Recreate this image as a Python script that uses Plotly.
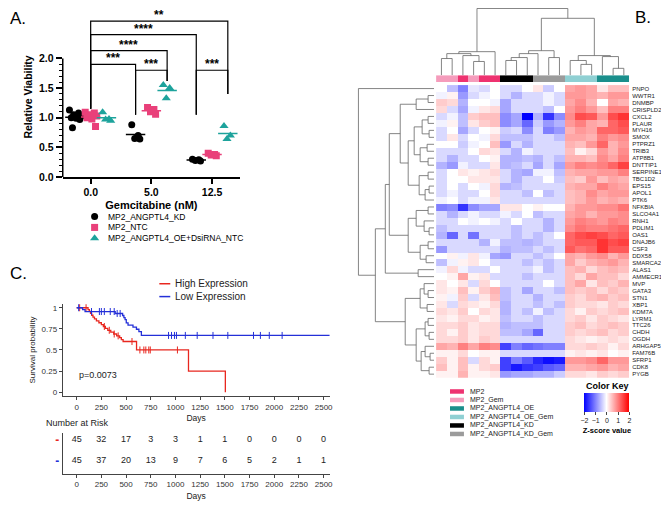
import plotly.graph_objects as go
import numpy as np

W, H = 669, 514
OFF = 8  # page body margin offset of the plot div
FONT = "Liberation Sans, Arial, sans-serif"


def fx(p):
    return (p - OFF) / W


def fy(p):
    return min(1.0, 1 - (p - OFF) / H)


# ---------------- Panel A data ----------------
doses = ["0.0", "5.0", "12.5"]
series_names = ["MP2_ANGPTL4_KD", "MP2_NTC", "MP2_ANGPTL4_OE+DsiRNA_NTC"]
kd_0 = [1.13, 1.08, 1.05, 1.02, 1.00, 0.99, 0.97, 0.83]
kd_5 = [0.88, 0.70, 0.65, 0.64]
kd_12 = [0.30, 0.29, 0.28, 0.27]
ntc_0 = [1.09, 1.08, 1.05, 1.03, 1.00, 0.98, 0.85]
ntc_5 = [1.17, 1.14, 1.10, 1.06]
ntc_12 = [0.40, 0.38, 0.37, 0.36]
oe_0 = [1.09, 0.98, 0.97, 0.95]
oe_5 = [1.55, 1.50, 1.33]
oe_12 = [0.86, 0.70, 0.64]
sig_labels = ["**", "****", "****", "***", "***", "***"]

# ---------------- Panel B data ----------------
genes = ["PNPO", "WWTR1", "DNMBP", "CRISPLD2", "CXCL2", "PLAUR", "MYH16", "SMOX",
         "PTPRZ1", "TRIB3", "ATP8B1", "DNTTIP1", "SERPINE1", "TBC1D2", "EPS15",
         "APOL1", "PTK6", "NFKBIA", "SLCO4A1", "RNH1", "PDLIM1", "OAS1", "DNAJB6",
         "CSF3", "DDX58", "SMARCA2", "ALAS1", "AMMECR1", "MVP", "GATA3", "STN1",
         "XBP1", "KDM7A", "LYRM1", "TTC26", "CHDH", "OGDH", "ARHGAP5", "FAM76B",
         "SFRP1", "CDK8", "PYGB"]
group_names = ["MP2", "MP2_Gem", "MP2_ANGPTL4_OE", "MP2_ANGPTL4_OE_Gem",
               "MP2_ANGPTL4_KD", "MP2_ANGPTL4_KD_Gem"]
col_groups = ["MP2_Gem", "MP2_Gem", "MP2", "MP2_Gem", "MP2", "MP2",
              "MP2_ANGPTL4_KD", "MP2_ANGPTL4_KD", "MP2_ANGPTL4_KD",
              "MP2_ANGPTL4_KD_Gem", "MP2_ANGPTL4_KD_Gem", "MP2_ANGPTL4_KD_Gem",
              "MP2_ANGPTL4_OE_Gem", "MP2_ANGPTL4_OE_Gem", "MP2_ANGPTL4_OE_Gem",
              "MP2_ANGPTL4_OE", "MP2_ANGPTL4_OE", "MP2_ANGPTL4_OE"]
zscores = [
    [0.0, -0.5, -1.0, -0.2, -0.3, 0.0, -0.3, -0.3, 0.0, 0.2, -0.4, 0.0, 0.7, 0.8, 0.7, 0.2, 0.5, 0.5],
    [-0.1, 0.1, -0.8, -0.3, -0.1, 0.0, -0.3, -0.6, -0.3, -0.3, -0.1, -0.3, 0.8, 0.8, 0.7, 0.6, 0.8, 0.8],
    [0.4, 0.3, -0.6, 0.0, 0.0, -0.1, -0.7, -0.3, -0.3, -0.3, -0.1, -0.3, 0.7, 0.9, 0.6, 0.0, 0.7, 0.6],
    [0.3, -0.3, -0.7, -0.1, 0.2, 0.3, -0.7, -0.3, -0.3, -0.3, -0.5, 0.0, 0.8, 1.0, 0.8, 0.5, 1.0, 1.0],
    [-0.3, -0.1, -0.5, 0.4, 0.5, 0.5, -0.9, -0.7, -2.0, -0.6, -1.6, -0.9, 0.9, 1.4, 1.3, 0.8, 1.4, 1.6],
    [-0.1, 0.1, -0.5, 0.2, 0.4, 0.5, -0.9, -0.7, -1.2, -0.4, -0.8, -0.6, 0.8, 1.0, 0.7, 0.6, 1.2, 1.4],
    [-0.3, 0.0, -0.7, -0.3, 0.0, 0.1, -0.4, -0.3, -0.9, -0.3, -1.0, -0.8, 0.6, 0.8, 0.7, 1.2, 1.2, 1.3],
    [-0.3, 0.2, -0.3, 0.0, -0.1, 0.3, -0.5, -0.5, -0.5, -0.3, -0.3, -0.5, 0.7, 0.7, 0.6, 1.0, 0.8, 0.9],
    [0.0, 0.0, -0.4, -0.1, 0.0, 0.5, -0.8, -0.3, -0.6, -0.3, -0.3, -0.3, 0.6, 0.5, 0.8, 1.2, 0.6, 0.8],
    [-0.3, -0.3, -0.3, 0.0, 0.3, 0.2, -0.3, -0.6, -0.1, -0.3, -0.3, -0.3, 0.5, 0.1, 0.3, 0.8, 0.6, 0.9],
    [-0.3, -0.6, -0.3, -0.3, 0.0, 0.1, -0.6, -0.6, -0.5, -0.6, -0.3, -0.5, 0.6, 0.6, 0.5, 0.9, 0.7, 1.0],
    [-0.6, -0.8, -0.1, -0.3, -0.3, 0.2, -0.6, -0.5, -0.3, -0.7, -0.3, -0.7, 0.8, 1.0, 0.9, 1.0, 1.2, 1.5],
    [-0.3, 0.0, 0.2, 0.1, 0.2, 0.3, -0.3, -0.6, -0.7, -0.1, -0.1, -0.5, 0.6, 0.7, 0.7, 0.8, 0.8, 1.0],
    [-0.3, 0.0, 0.0, 0.2, 0.2, 0.2, -0.3, -0.6, -0.3, -0.3, 0.0, -0.4, 0.5, 0.4, 0.8, 0.5, 0.7, 0.6],
    [-0.3, 0.0, -0.3, 0.0, -0.1, 0.3, -0.6, -0.5, -0.3, -0.3, -0.3, -0.3, 0.6, 0.7, 0.7, 1.0, 0.8, 0.7],
    [-0.3, -0.1, -0.3, -0.3, 0.0, 0.3, -0.3, -0.3, -0.5, 0.0, -0.5, -0.3, 0.5, 0.6, 0.9, 0.7, 0.8, 0.8],
    [-0.1, 0.0, -0.3, -0.1, -0.1, 0.2, -0.3, -0.3, -0.3, -0.3, -0.3, -0.3, 0.5, 0.6, 0.8, 0.6, 0.7, 0.6],
    [-1.0, -0.9, -1.6, -0.9, -0.7, -0.7, 0.2, 0.2, 0.0, 0.1, 0.0, 0.0, 0.6, 0.8, 0.8, 0.9, 0.9, 1.1],
    [-0.3, -0.6, -0.3, -0.1, -0.3, -0.3, -0.1, -0.3, 0.0, -0.5, -0.3, -0.3, 0.7, 0.8, 0.6, 0.8, 0.8, 0.9],
    [-0.3, -0.3, 0.0, -0.1, 0.0, -0.1, -0.3, 0.0, -0.3, -0.3, -0.6, -0.3, 0.8, 1.0, 0.9, 0.8, 1.0, 0.9],
    [-0.5, -0.3, -0.3, -0.3, -0.3, -0.3, -0.3, -0.5, -0.3, -0.3, -0.6, -0.3, 0.9, 1.1, 1.0, 1.0, 1.1, 1.2],
    [-0.6, -1.2, -0.3, -1.1, -0.3, -0.3, -0.3, -0.5, -0.3, -0.5, -0.3, 0.0, 1.2, 1.4, 1.5, 1.4, 1.2, 1.3],
    [-0.3, -0.3, -0.3, -0.3, -0.6, -0.1, -0.5, -0.5, -0.6, -0.5, -0.3, -0.3, 1.2, 1.3, 1.3, 1.6, 1.4, 1.5],
    [-0.8, -0.3, -0.3, -0.3, -0.3, -0.3, -0.6, -0.5, -0.5, -0.3, -0.5, -0.3, 1.3, 1.1, 1.2, 1.6, 1.3, 1.3],
    [0.0, 0.1, -0.1, 0.2, -0.1, -0.7, -0.8, -0.3, -0.3, -0.5, -0.3, 0.0, 0.7, 0.6, 0.8, 0.9, 0.6, 0.8],
    [-0.5, -0.1, 0.1, 0.2, 0.0, -0.3, -0.3, -0.3, -0.5, -0.3, -0.5, -0.3, 0.7, 0.4, 0.6, 0.7, 0.8, 0.6],
    [-0.1, 0.3, -0.1, -0.3, -0.3, 0.0, -0.3, -0.3, -0.3, -0.1, -0.5, -0.3, 0.5, 0.6, 0.3, 0.5, 0.6, 0.5],
    [0.0, 0.1, 0.7, 0.1, 0.2, -0.3, -0.3, -0.3, -0.5, -0.3, -0.3, -0.3, 0.5, 0.3, 0.7, 0.5, 0.5, 0.3],
    [0.2, 0.0, 0.2, -0.3, 0.3, 0.0, -0.3, -0.3, -0.3, -0.3, 0.0, -0.3, 0.5, 0.7, 0.2, 0.5, 0.4, 0.6],
    [0.2, 0.1, 0.5, 0.1, 0.4, 0.6, -0.5, -0.3, -0.7, -0.3, -0.3, -0.5, 0.5, 0.4, 0.5, 0.3, 0.5, 0.4],
    [0.1, -0.1, 0.4, -0.3, 0.2, 0.5, -0.5, -0.3, -0.3, -0.6, -0.3, -0.3, 0.4, 0.3, 0.5, 0.6, 0.4, 0.5],
    [0.2, -0.3, 0.3, 0.2, 0.1, 0.3, -0.6, -0.3, -0.3, -0.5, -0.3, -0.5, 0.4, 0.3, 0.3, 0.2, 0.4, 0.3],
    [0.3, 0.2, 0.4, 0.0, 0.3, 0.2, -0.6, -0.3, -0.5, -0.1, -0.5, -0.3, 0.3, 0.1, 0.4, 0.3, 0.4, 0.5],
    [0.2, 0.1, 0.3, 0.3, 0.1, 0.2, -0.5, -0.3, -0.3, -0.5, -0.3, -0.3, 0.3, 0.4, 0.2, 0.4, 0.3, 0.2],
    [0.3, 0.3, 0.4, 0.2, 0.3, 0.3, -0.6, -0.5, -0.5, -0.5, -0.3, -0.3, 0.4, 0.5, 0.3, 0.4, 0.5, 0.4],
    [0.3, 0.1, 0.4, 0.2, 0.3, 0.3, -0.5, -0.5, -0.7, -1.2, -0.3, -0.3, 0.4, 0.3, 0.4, 0.5, 0.3, 0.4],
    [0.3, 0.3, 0.4, 0.2, 0.4, 0.3, -0.3, -0.3, -0.3, -0.3, -0.3, -0.3, 0.3, 0.2, 0.1, 0.2, 0.3, 0.2],
    [0.7, 0.6, 1.0, 0.7, 1.0, 0.9, -1.5, -1.0, -1.2, -1.1, -1.0, -1.0, 0.3, 0.3, 0.4, 0.3, 0.1, 0.3],
    [0.1, 0.1, 0.3, 0.0, 0.1, 0.1, -0.3, -0.3, -0.3, -0.3, -0.3, -0.3, 0.1, 0.2, 0.1, 0.2, 0.0, 0.1],
    [0.4, 0.1, 0.5, -0.3, 0.3, 0.1, -1.5, -1.0, -1.3, -1.7, -1.9, -1.8, 0.8, 0.8, 0.9, 1.2, 0.8, 0.8],
    [0.5, 0.1, 0.5, 0.1, 0.3, 0.4, -1.5, -1.8, -1.6, -1.5, -1.3, -1.2, 0.6, 0.6, 0.7, 0.8, 0.6, 0.7],
    [0.1, 0.1, 0.6, 0.1, 0.1, 0.2, -0.8, -0.7, -0.7, -0.6, -0.6, -0.4, 0.3, 0.3, 0.2, 0.4, 0.3, 0.4],
]
# dendrogram merges: (left, right, height); leaves are column / row indices
col_tree = ((((0, 1, 17), (2, (3, 4, 14), 20), 22), 5, 24),
            (((((6, 7, 15), 8, 18), 9, 22), (10, 11, 18), 25),
             ((12, (13, 14, 11), 15), (15, (16, 17, 7), 19), 20), 58), 68)
row_T = (((1, 2, 6), 3, 18),
         ((((4, 5, 6), (6, 7, 5), 12), ((8, 9, 7), (10, 11, 6), 14), 20),
          ((12, 13, 6), ((14, 15, 5), 16, 9), 15), 26), 34)
row_M = (((17, 18, 6), (19, (20, 21, 5), 10), 18), ((22, 23, 6), (24, 25, 8), 14), 26)
row_B = (((28, (29, 30, 6), 10), (31, 32, 7), 14),
         (((33, 34, 6), (35, 36, 5), 9), ((37, (38, 39, 4), 9), (40, 41, 5), 13), 18), 29)
row_tree = (0, (((row_T, row_M, 45), (26, 27, 16), 49), row_B, 59), 76)

# ---------------- Panel C data ----------------
high_days = [0, 115, 128, 140, 152, 165, 180, 200, 225, 250, 270, 290, 315, 345, 375,
             405, 435, 452, 470, 606, 1132, 1505]
high_surv = [1.0, 0.978, 0.956, 0.933, 0.911, 0.889, 0.867, 0.844, 0.822, 0.800, 0.778,
             0.756, 0.733, 0.711, 0.689, 0.667, 0.645, 0.622, 0.600, 0.500, 0.250, 0.0]
high_censor = [30, 95, 280, 330, 380, 420, 560, 640, 680, 700, 730, 745, 1020]
low_days = [0, 60, 85, 390, 465, 478, 490, 502, 520, 570, 605, 630, 655, 2600]
low_surv = [1.0, 0.978, 0.955, 0.932, 0.908, 0.884, 0.860, 0.820, 0.795, 0.770, 0.745,
            0.718, 0.672, 0.672]
low_censor = [20, 150, 230, 250, 280, 340, 380, 410, 440, 930, 960, 990, 1010, 1100,
              1220, 1380, 1530, 1790, 1860, 1950, 2080]
risk_days = [0, 250, 500, 750, 1000, 1250, 1500, 1750, 2000, 2250, 2500]
risk_high = [45, 32, 17, 3, 3, 1, 1, 0, 0, 0, 0]
risk_low = [45, 37, 20, 13, 9, 7, 6, 5, 2, 1, 1]
surv_ticks = [0, 0.25, 0.5, 0.75, 1]
surv_ticktext = ["0", "0.25", "0.5", "0.75", "1"]

# ---------------- styles ----------------
C_KD, C_NTC, C_OE = "black", "#E9407A", "#1DA39C"
RED, BLUE = "#E8271F", "#2430D8"
GROUP_COLORS = ["#EE3270", "#F59CBC", "#1A8F8C", "#8FD0D3", "#000000", "#9B9B9B"]
DEN = "#666666"

fig = go.Figure()


def note(x, y, text, size, color="#222", xanchor="left", **kw):
    return dict(x=fx(x), y=fy(y), xref="paper", yref="paper", text=text, showarrow=False,
                xanchor=xanchor, yanchor="middle", font=dict(size=size, color=color), **kw)


# ======== Panel A ========
series = [
    (series_names[0], [kd_0, kd_5, kd_12], C_KD, "circle", -0.26, 7),
    (series_names[1], [ntc_0, ntc_5, ntc_12], C_NTC, "square", 0.0, 7),
    (series_names[2], [oe_0, oe_5, oe_12], C_OE, "triangle-up", 0.26, 8),
]
jit = [-0.09, 0.06, -0.02, 0.1, -0.06, 0.02, 0.08, -0.04]
for name, groups, col, sym, off, size in series:
    xs, ys, mx, my = [], [], [], []
    for i, vals in enumerate(groups):
        for k, v in enumerate(vals):
            xs.append(i + off + jit[k % len(jit)] * (1 if len(vals) > 4 else 0.7))
            ys.append(v)
        m = float(np.mean(vals))
        mx += [i + off - 0.16, i + off + 0.16, None]
        my += [m, m, None]
    fig.add_trace(go.Scatter(x=xs, y=ys, mode="markers", name=name,
                             marker=dict(color=col, symbol=sym, size=size, line=dict(width=0)),
                             xaxis="x", yaxis="y", showlegend=False))
    fig.add_trace(go.Scatter(x=mx, y=my, mode="lines", line=dict(color=col, width=1.5),
                             xaxis="x", yaxis="y", showlegend=False, hoverinfo="skip"))

# significance brackets
pos = {"kd": -0.26, "ntc": 0.0, "oe": 0.26}
leg_bottom = {(0, "ntc"): 1.15, (1, "kd"): 1.05, (1, "oe"): 1.62, (2, "kd"): 1.05, (2, "oe"): 1.40}
pairs = [((0, "ntc"), (2, "oe"), 2.63), ((0, "ntc"), (2, "kd"), 2.40),
         ((0, "ntc"), (1, "oe"), 2.13), ((0, "ntc"), (1, "kd"), 1.90),
         ((1, "kd"), (1, "oe"), 1.80), ((2, "kd"), (2, "oe"), 1.80)]
shapes = []
annotations = []
for (a, b, top), lab in zip(pairs, sig_labels):
    xa = a[0] + pos[a[1]]
    xb = b[0] + pos[b[1]]
    shapes.append(dict(type="path", xref="x", yref="y", line=dict(color="black", width=1.2),
                       path=f"M {xa},{leg_bottom[a]} L {xa},{top} L {xb},{top} L {xb},{leg_bottom[b]}"))
    annotations.append(dict(x=(xa + xb) / 2, y=top, xref="x", yref="y", text=f"<b>{lab}</b>",
                            showarrow=False, xanchor="center", yanchor="bottom", yshift=-3,
                            font=dict(size=12, color="black")))
shapes.append(dict(type="line", xref="x domain", yref="y", x0=0, x1=0, y0=0, y1=2,
                   line=dict(color="black", width=1.5)))

# legend A (drawn on pixel overlay)
for i, (name, _, col, sym, _, size) in enumerate(series):
    yy = 219 + 11 * i
    fig.add_trace(go.Scatter(x=[95], y=[yy], mode="markers", xaxis="x8", yaxis="y8",
                             marker=dict(color=col, symbol=sym, size=size), showlegend=False,
                             hoverinfo="skip"))
    annotations.append(note(106, yy, name, 8.5, "black"))

# ======== Panel C ========
for days, surv, cens, col in [(high_days, high_surv, high_censor, RED),
                              (low_days, low_surv, low_censor, BLUE)]:
    fig.add_trace(go.Scatter(x=days, y=surv, mode="lines", line=dict(shape="hv", color=col, width=1.3),
                             xaxis="x2", yaxis="y2", showlegend=False))
    idx = np.searchsorted(np.array(days), np.array(cens), side="right") - 1
    fig.add_trace(go.Scatter(x=cens, y=[surv[j] for j in idx], mode="markers", xaxis="x2", yaxis="y2",
                             marker=dict(symbol="line-ns", size=5, line=dict(color=col, width=1)),
                             showlegend=False, hoverinfo="skip"))

for row_y, vals in [(1, risk_high), (0, risk_low)]:
    fig.add_trace(go.Scatter(x=risk_days, y=[row_y] * len(vals), mode="text",
                             text=[str(v) for v in vals], textfont=dict(size=9, color="#222"),
                             xaxis="x3", yaxis="y3", showlegend=False, hoverinfo="skip"))

for i, (lab, col) in enumerate([("High Expression", RED), ("Low Expression", BLUE)]):
    yy = 287 + 13 * i
    fig.add_trace(go.Scatter(x=[160, 171], y=[yy, yy], mode="lines", line=dict(color=col, width=1.5),
                             xaxis="x8", yaxis="y8", showlegend=False, hoverinfo="skip"))
    annotations.append(note(174, yy, lab, 10))

annotations.append(dict(x=0, y=0.2, xref="x2", yref="y2", text="p=0.0073", showarrow=False,
                        xanchor="left", yanchor="middle", font=dict(size=9, color="#222")))
annotations.append(note(44, 428, "Number at Risk", 9))

# ======== Panel B ========
fig.add_trace(go.Heatmap(
    z=zscores, x=list(range(len(col_groups))), y=list(range(len(genes))),
    colorscale=[[0, "#0000FF"], [0.5, "#FFFFFF"], [1, "#FF0000"]], zmin=-2, zmax=2,
    xaxis="x4", yaxis="y4", hoverinfo="skip",
    colorbar=dict(orientation="h", x=fx(587), xanchor="left", y=fy(398), yanchor="top",
                  len=45, lenmode="pixels", thickness=19, thicknessmode="pixels",
                  tickvals=[-2, -1, 0, 1, 2], ticks="outside", ticklen=3,
                  tickfont=dict(size=7, color="#222"), outlinewidth=0, xpad=0, ypad=0,
                  title=dict(text="<b>Z-score value</b>", side="bottom", font=dict(size=7.5, color="black")))))

gidx = [group_names.index(g) for g in col_groups]
n_g = len(group_names)
disc = []
for i, c in enumerate(GROUP_COLORS):
    disc += [[i / n_g, c], [(i + 1) / n_g, c]]
fig.add_trace(go.Heatmap(z=[gidx], x=list(range(len(col_groups))), y=[0], colorscale=disc,
                         zmin=-0.5, zmax=n_g - 0.5, showscale=False, xaxis="x5", yaxis="y5",
                         hoverinfo="skip"))


def dendro(node, segs):
    if isinstance(node, int):
        return float(node), 0.0
    a, b, h = node
    pa, ha = dendro(a, segs)
    pb, hb = dendro(b, segs)
    segs.append([(pa, ha), (pa, h), (pb, h), (pb, hb)])
    return (pa + pb) / 2, h


segs = []
dendro(col_tree, segs)
cx, cy = [], []
for s in segs:
    cx += [p for p, _ in s] + [None]
    cy += [h for _, h in s] + [None]
fig.add_trace(go.Scatter(x=cx, y=cy, mode="lines", line=dict(color=DEN, width=0.8),
                         xaxis="x6", yaxis="y6", showlegend=False, hoverinfo="skip"))
segs = []
dendro(row_tree, segs)
rx, ry = [], []
for s in segs:
    rx += [h for _, h in s] + [None]
    ry += [p for p, _ in s] + [None]
fig.add_trace(go.Scatter(x=rx, y=ry, mode="lines", line=dict(color=DEN, width=0.8),
                         xaxis="x7", yaxis="y7", showlegend=False, hoverinfo="skip"))

# group legend
for i, (g, col) in enumerate(zip(group_names, GROUP_COLORS)):
    yy = 396 + 8.6 * i
    fig.add_trace(go.Scatter(x=[452, 466], y=[yy, yy], mode="lines", line=dict(color=col, width=4.5),
                             xaxis="x8", yaxis="y8", showlegend=False, hoverinfo="skip"))
    annotations.append(note(470, yy, g, 7))
annotations.append(note(610, 390, "<b>Color Key</b>", 9, "black", xanchor="center"))

# panel letters
for lab, x, y in [("A.", 8, 19), ("B.", 636, 18), ("C.", 8, 277)]:
    annotations.append(note(x, y, lab, 17, "black"))

off = dict(showgrid=False, zeroline=False)
hidden = dict(visible=False, showgrid=False, zeroline=False, fixedrange=True)
km_x = dict(domain=[fx(63), fx(331)], range=[-141, 2560], tickvals=risk_days, ticks="outside",
            ticklen=3, tickcolor="#444", showline=True, linecolor="#444", linewidth=1,
            tickfont=dict(size=8, color="#333"), **off)

fig.update_layout(
    width=W, height=H, margin=dict(l=0, r=0, t=0, b=0),
    paper_bgcolor="white", plot_bgcolor="rgba(0,0,0,0)",
    font=dict(family=FONT, color="black"), showlegend=False,
    shapes=shapes, annotations=annotations,
    xaxis=dict(domain=[fx(63), fx(241)], range=[-0.46, 2.46], anchor="y", tickvals=[0, 1, 2],
               ticktext=[f"<b>{d}</b>" for d in doses], ticks="outside", ticklen=5, tickwidth=1.5,
               tickcolor="black", showline=True, linecolor="black", linewidth=1.5,
               tickfont=dict(size=10.5), title=dict(text="<b>Gemcitabine (nM)</b>", font=dict(size=11),
                                                    standoff=4), **off),
    yaxis=dict(domain=[fy(179), fy(17)], range=[0, 2.7], anchor="x", tickvals=[0, 0.5, 1, 1.5, 2],
               ticktext=["<b>0.0</b>", "<b>0.5</b>", "<b>1.0</b>", "<b>1.5</b>", "<b>2.0</b>"],
               ticks="outside", ticklen=6, tickwidth=1.5, tickcolor="black", tickfont=dict(size=10.5),
               minor=dict(tickvals=[v / 10 for v in range(1, 20) if v % 5], ticks="outside",
                          ticklen=3, tickwidth=1.2, tickcolor="black"),
               title=dict(text="<b>Relative Viability</b>", font=dict(size=10.5), standoff=4), **off),
    xaxis2=dict(anchor="y2", title=dict(text="Days", font=dict(size=8.5, color="#222"), standoff=4), **km_x),
    yaxis2=dict(domain=[fy(401), fy(307)], range=[-0.05, 1.05], anchor="x2", tickvals=surv_ticks,
                ticktext=surv_ticktext, ticks="outside", ticklen=3, tickcolor="#444", showline=True,
                linecolor="#444", linewidth=1, tickfont=dict(size=8, color="#333"),
                title=dict(text="Survival probability", font=dict(size=8, color="#222"), standoff=4), **off),
    xaxis3=dict(anchor="y3", title=dict(text="Days", font=dict(size=8.5, color="#222"), standoff=4), **km_x),
    yaxis3=dict(domain=[fy(479), fy(438)], range=[-0.62, 1.33], anchor="x3", tickvals=[1, 0],
                ticktext=[f"<span style='color:{RED}'><b>-</b></span>",
                          f"<span style='color:{BLUE}'><b>-</b></span>"],
                ticks="", showline=True, linecolor="#444", linewidth=1,
                tickfont=dict(size=12), **off),
    xaxis4=dict(domain=[fx(438), fx(632)], range=[-0.5, 17.5], anchor="y4", **hidden),
    yaxis4=dict(domain=[fy(382), fy(86)], range=[len(genes) - 0.5, -0.5], anchor="x4", side="right",
                tickvals=list(range(len(genes))), ticktext=genes, ticks="", ticklabelstandoff=2,
                tickfont=dict(size=6, color="#222"), showline=False, fixedrange=True, **off),
    xaxis5=dict(domain=[fx(438), fx(632)], range=[-0.5, 17.5], anchor="y5", **hidden),
    yaxis5=dict(domain=[fy(83), fy(76)], range=[-0.5, 0.5], anchor="x5", **hidden),
    xaxis6=dict(domain=[fx(438), fx(632)], range=[-0.5, 17.5], anchor="y6", **hidden),
    yaxis6=dict(domain=[fy(76), fy(8)], range=[0, 68.5], anchor="x6", **hidden),
    xaxis7=dict(domain=[fx(355), fx(436)], range=[81, 0], anchor="y7", **hidden),
    yaxis7=dict(domain=[fy(382), fy(86)], range=[len(genes) - 0.5, -0.5], anchor="x7", **hidden),
    xaxis8=dict(domain=[0, 1], range=[OFF, W + OFF], anchor="y8", **hidden),
    yaxis8=dict(domain=[0, 1], range=[H + OFF, OFF], anchor="x8", **hidden),
)

fig.write_html("out.html")
